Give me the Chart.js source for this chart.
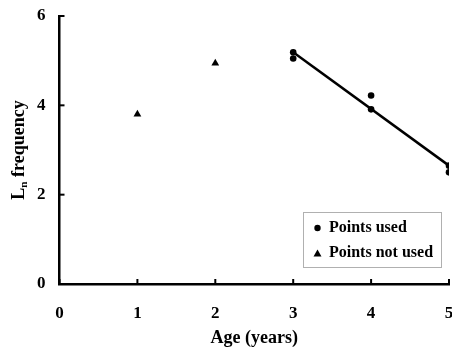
<!DOCTYPE html>
<html><head><meta charset="utf-8">
<script src="https://cdn.jsdelivr.net/npm/chart.js@4/dist/chart.umd.min.js"></script>
<style>html,body{margin:0;padding:0;background:#fff;}canvas{display:block;}</style>
</head><body>
<canvas id="c" width="452" height="349"></canvas>
<script>
const usedAges = [3, 3, 4, 4, 5, 5];
const usedValues = [5.19, 5.05, 4.22, 3.91, 2.65, 2.50];
const notUsedAges = [1, 2];
const notUsedValues = [3.80, 4.94];
const fitAges = [3, 5];
const fitValues = [5.19, 2.65];
const xTicks = [0, 1, 2, 3, 4, 5];
const yTicks = [0, 2, 4, 6];
const xTitle = 'Age (years)';
const yTitleMain = 'L', yTitleSub = 'n', yTitleRest = ' frequency';
const legendLabels = ['Points used', 'Points not used'];

const FONT = '"Liberation Serif", "Times New Roman", serif';
const toPts = (xs, ys) => xs.map((x, i) => ({x, y: ys[i]}));

const extras = {
  id: 'extras',
  afterDraw(chart) {
    const ctx = chart.ctx, xs = chart.scales.x, ys = chart.scales.y, a = chart.chartArea;
    ctx.save();
    ctx.strokeStyle = '#000'; ctx.lineWidth = 2;
    xTicks.forEach(t => { const px = xs.getPixelForValue(t); ctx.beginPath(); ctx.moveTo(px, a.bottom); ctx.lineTo(px, a.bottom - 5); ctx.stroke(); });
    yTicks.forEach(t => { const py = ys.getPixelForValue(t); ctx.beginPath(); ctx.moveTo(a.left, py); ctx.lineTo(a.left + 5, py); ctx.stroke(); });
    // y title with subscript
    ctx.fillStyle = '#000';
    ctx.translate(19, 150); ctx.rotate(-Math.PI / 2);
    ctx.font = 'bold 18px ' + FONT;
    const w1 = ctx.measureText(yTitleMain).width;
    ctx.font = 'bold 11px ' + FONT;
    const w2 = ctx.measureText(yTitleSub).width;
    ctx.font = 'bold 18px ' + FONT;
    const w3 = ctx.measureText(yTitleRest).width;
    let x0 = -(w1 + w2 + w3) / 2;
    ctx.textBaseline = 'middle'; ctx.textAlign = 'left';
    ctx.fillText(yTitleMain, x0, 0);
    ctx.font = 'bold 11px ' + FONT;
    ctx.fillText(yTitleSub, x0 + w1, 5);
    ctx.font = 'bold 18px ' + FONT;
    ctx.fillText(yTitleRest, x0 + w1 + w2, 0);
    ctx.restore();
    // legend
    ctx.save();
    ctx.strokeStyle = '#b0b0b0'; ctx.lineWidth = 1;
    ctx.strokeRect(303.5, 212.5, 138, 55);
    ctx.fillStyle = '#000';
    ctx.beginPath(); ctx.arc(317.5, 228, 3.2, 0, Math.PI * 2); ctx.fill();
    ctx.beginPath(); ctx.moveTo(317.5, 249.5); ctx.lineTo(321.5, 256.5); ctx.lineTo(313.5, 256.5); ctx.closePath(); ctx.fill();
    ctx.font = 'bold 16px ' + FONT; ctx.textBaseline = 'middle'; ctx.textAlign = 'left';
    ctx.fillText(legendLabels[0], 329, 228);
    ctx.fillText(legendLabels[1], 329, 253);
    ctx.restore();
  }
};

new Chart(document.getElementById('c'), {
  type: 'scatter',
  data: {
    datasets: [
      { label: 'fit', type: 'line', data: toPts(fitAges, fitValues), borderColor: '#000', borderWidth: 2.5, pointRadius: 0, showLine: true, fill: false },
      { label: legendLabels[0], data: toPts(usedAges, usedValues), pointStyle: 'circle', pointRadius: 3.3, backgroundColor: '#000', borderColor: '#000', borderWidth: 0 },
      { label: legendLabels[1], data: toPts(notUsedAges, notUsedValues), pointStyle: 'triangle', pointRadius: 4.5, backgroundColor: '#000', borderColor: '#000', borderWidth: 0 }
    ]
  },
  options: {
    responsive: false, animation: false,
    layout: { autoPadding: false, padding: { top: 16, right: 3, left: 0, bottom: 0 } },
    plugins: { legend: { display: false }, tooltip: { enabled: false } },
    scales: {
      x: {
        type: 'linear', min: 0, max: 5,
        afterFit(s) { s.height = 65; s.paddingLeft = 0; s.paddingRight = 0; },
        afterBuildTicks(s) { s.ticks = xTicks.map(v => ({value: v})); },
        grid: { display: false, drawTicks: false },
        border: { display: true, color: '#000', width: 2.5 },
        ticks: { color: '#000', padding: 19, font: { family: FONT, size: 17, weight: 'bold' }, maxRotation: 0 },
        title: { display: true, text: xTitle, color: '#000', font: { family: FONT, size: 18, weight: 'bold' }, padding: { top: 5, bottom: 0 } }
      },
      y: {
        type: 'linear', min: 0, max: 6,
        afterFit(s) { s.width = 59.5; s.paddingTop = 0; s.paddingBottom = 0; },
        afterBuildTicks(s) { s.ticks = yTicks.map(v => ({value: v})); },
        grid: { display: false, drawTicks: false },
        border: { display: true, color: '#000', width: 2.5 },
        ticks: { color: '#000', padding: 14, font: { family: FONT, size: 17, weight: 'bold' } }
      }
    }
  },
  plugins: [extras]
});
</script>
</body></html>
